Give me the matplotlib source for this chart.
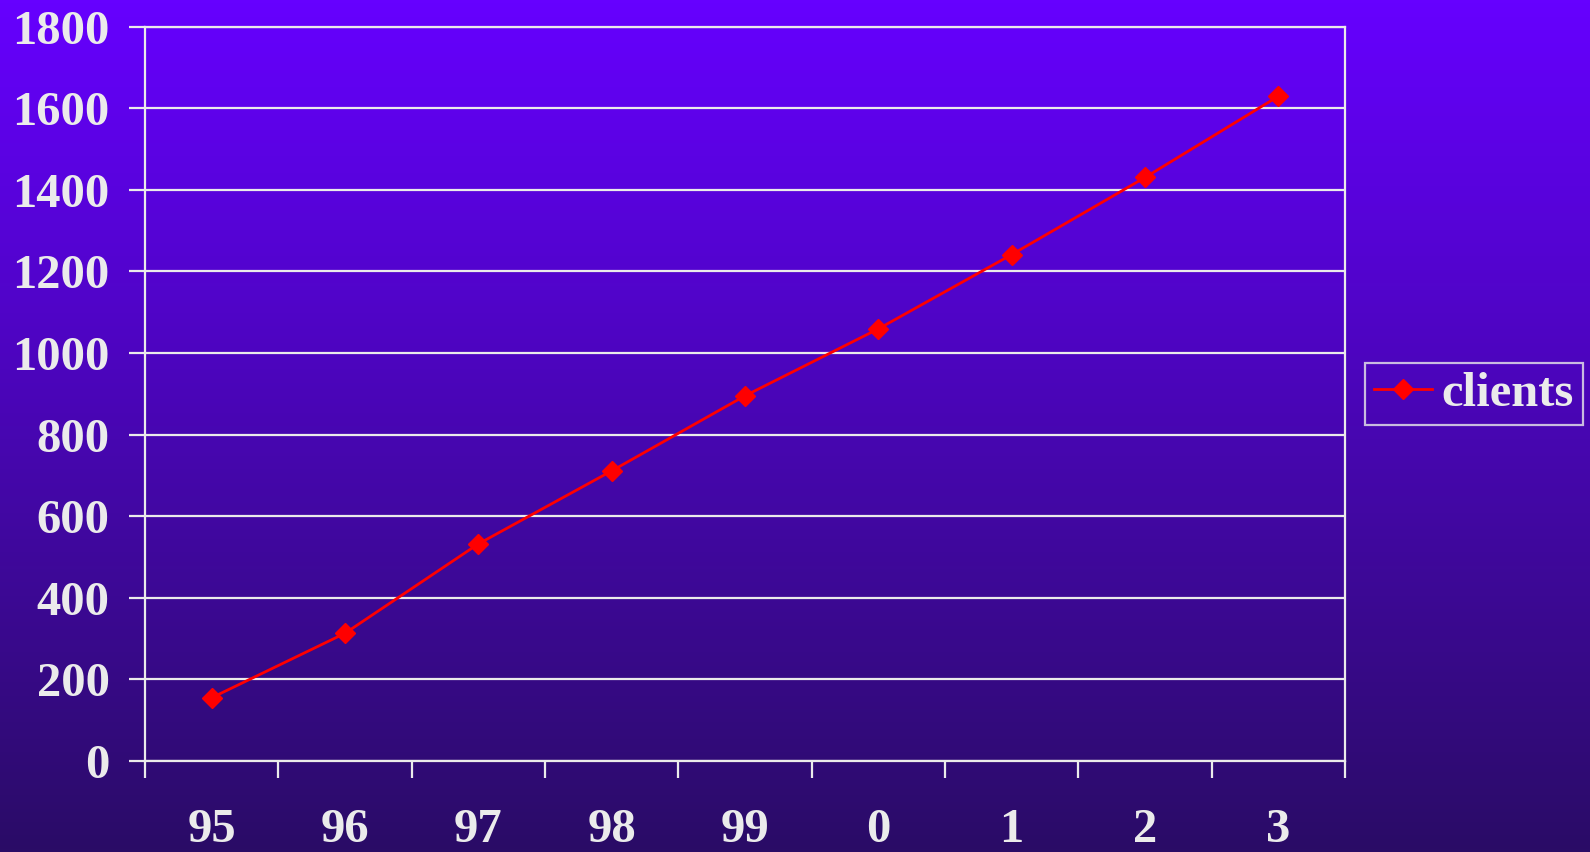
import numpy as np
import matplotlib
matplotlib.use("Agg")
import matplotlib.pyplot as plt
from matplotlib.ticker import FixedLocator

years = ["95", "96", "97", "98", "99", "0", "1", "2", "3"]
clients = [155, 313, 532, 711, 895, 1059, 1241, 1430, 1629]
yticks = [0, 200, 400, 600, 800, 1000, 1200, 1400, 1600, 1800]

plt.rcParams['font.family'] = ['Liberation Serif', 'DejaVu Serif']
plt.rcParams['font.weight'] = 'bold'

txt = '#ebebeb'
fig = plt.figure(figsize=(15.9, 8.52), dpi=100)

# vertical gradient background
bg = fig.add_axes([0, 0, 1, 1])
top = np.array([0x66, 0x00, 0xff]) / 255
bot = np.array([0x2a, 0x0c, 0x66]) / 255
t = np.linspace(0, 1, 256)[:, None]
grad = top * (1 - t) + bot * t
bg.imshow(grad[:, None, :], aspect='auto', extent=[0, 1, 0, 1])
bg.axis('off')

ax = fig.add_axes([145/1590, 1 - 761/852, 1200/1590, 734.5/852])
ax.set_facecolor('none')
x = np.arange(len(years))
ax.plot(x, clients, color='#ff0000', lw=2, marker='D', markersize=10,
        label='clients', zorder=3)

ax.set_xlim(-0.5, len(years) - 0.5)
ax.set_ylim(0, 1800)
ax.set_yticks(yticks)
ax.yaxis.grid(True, color=txt, lw=1.6)
ax.set_axisbelow(True)

ax.xaxis.set_major_locator(FixedLocator(np.arange(-0.5, len(years), 1.0)))
ax.xaxis.set_major_formatter(plt.NullFormatter())
ax.xaxis.set_minor_locator(FixedLocator(x))
ax.set_xticklabels(years, minor=True)
ax.tick_params(axis='x', which='major', length=12, width=1.6, color=txt, direction='out')
ax.tick_params(axis='x', which='minor', length=0, pad=34, labelsize=35, labelcolor=txt)
ax.tick_params(axis='y', length=11.5, width=1.6, color=txt, pad=14,
               labelsize=35, labelcolor=txt, direction='out')
for s in ax.spines.values():
    s.set_color(txt)
    s.set_linewidth(1.6)

leg = fig.legend(loc='center left', bbox_to_anchor=(1365/1590, 1 - 394/852),
                 frameon=True, fancybox=False, fontsize=35, handlelength=1.2,
                 borderpad=0.18, handletextpad=0.2, borderaxespad=0)
leg.get_frame().set_facecolor('none')
leg.get_frame().set_edgecolor(txt)
leg.get_frame().set_linewidth(1.6)
for tx in leg.get_texts():
    tx.set_color(txt)

fig.savefig('out.png', dpi=100)
